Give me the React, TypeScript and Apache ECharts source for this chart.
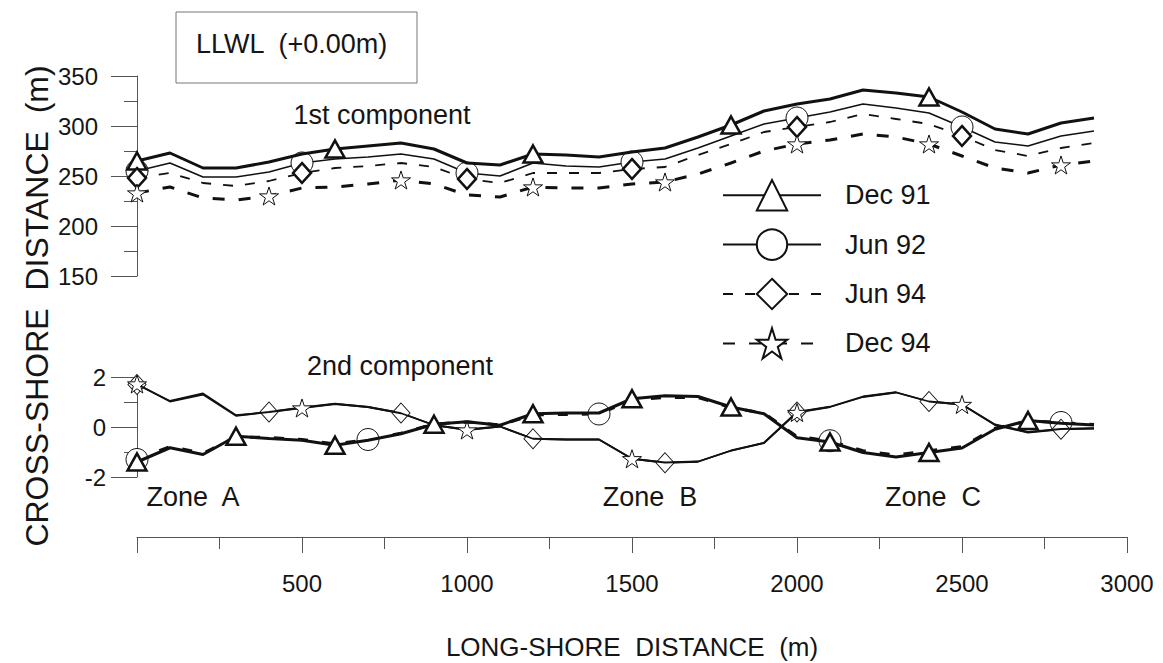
import React, { useEffect, useRef } from "react";
import * as echarts from "echarts";

const FONT = "'Liberation Sans', Arial, Helvetica, sans-serif";

// Long-shore positions (m)
const xs = [0, 100, 200, 300, 400, 500, 600, 700, 800, 900, 1000, 1100, 1200, 1300, 1400, 1500, 1600, 1700, 1800, 1900, 2000, 2100, 2200, 2300, 2400, 2500, 2600, 2700, 2800, 2900];

// 1st component (m)
const top_dec91 = [265, 273, 258, 258, 264, 272, 277, 280, 283, 277, 263, 261, 272, 271, 269, 274, 278, 289, 301, 315, 322, 327, 336, 333, 329, 314, 297, 292, 303, 308];
const top_jun92 = [255, 263, 249, 249, 254, 263, 267, 269, 272, 267, 253, 250, 263, 260, 259, 264, 267, 278, 290, 302, 308, 314, 322, 318, 313, 299, 284, 280, 290, 295];
const top_jun94 = [248, 253, 243, 240, 245, 253, 258, 260, 263, 259, 247, 243, 253, 253, 253, 257, 259, 271, 282, 294, 299, 304, 312, 307, 302, 290, 276, 270, 278, 283];
const top_dec94 = [233, 239, 228, 226, 230, 238, 239, 242, 246, 242, 231, 229, 239, 238, 238, 242, 244, 252, 263, 275, 282, 286, 292, 289, 282, 270, 258, 253, 261, 265];

// 2nd component
const bot_dec91 = [-1.4, -0.83, -1.1, -0.37, -0.46, -0.53, -0.73, -0.53, -0.27, 0.11, 0.21, 0.07, 0.53, 0.56, 0.56, 1.13, 1.25, 1.22, 0.8, 0.53, -0.43, -0.6, -1.02, -1.2, -1.02, -0.84, -0.09, 0.26, 0.15, 0.08];
const bot_jun92 = [-1.3, -0.78, -1.05, -0.4, -0.42, -0.5, -0.68, -0.5, -0.25, 0.12, 0.2, 0.08, 0.48, 0.5, 0.52, 1.08, 1.18, 1.18, 0.78, 0.55, -0.38, -0.55, -0.95, -1.12, -0.95, -0.78, -0.05, 0.24, 0.18, 0.1];
const bot_jun94 = [1.7, 1.04, 1.34, 0.47, 0.6, 0.78, 0.93, 0.8, 0.56, 0.07, -0.1, 0.02, -0.47, -0.5, -0.5, -1.27, -1.43, -1.39, -0.94, -0.64, 0.6, 0.81, 1.22, 1.39, 1.02, 0.9, 0.08, -0.22, -0.09, -0.06];
const bot_dec94 = [1.72, 1.02, 1.3, 0.45, 0.6, 0.76, 0.92, 0.8, 0.55, 0.08, -0.12, 0.02, -0.47, -0.5, -0.5, -1.27, -1.42, -1.38, -0.95, -0.63, 0.58, 0.8, 1.2, 1.38, 1.02, 0.9, 0.1, -0.2, -0.08, -0.05];

// Positions that carry a marker
const topMarks_dec91 = [0, 600, 1200, 1800, 2400];
const topMarks_jun92 = [0, 500, 1000, 1500, 2000, 2500];
const topMarks_jun94 = [0, 500, 1000, 1500, 2000, 2500];
const topMarks_dec94 = [0, 400, 800, 1200, 1600, 2000, 2400, 2800];
const botMarks_dec91 = [0, 300, 600, 900, 1200, 1500, 1800, 2100, 2400, 2700];
const botMarks_jun92 = [0, 700, 1400, 2100, 2800];
const botMarks_jun94 = [0, 400, 800, 1200, 1600, 2000, 2400, 2800];
const botMarks_dec94 = [0, 500, 1000, 1500, 2000, 2500];

const legendNames = ["Dec 91", "Jun 92", "Jun 94", "Dec 94"];
const xTickLabels = ["500", "1000", "1500", "2000", "2500", "3000"];

const STAR =
  "path://M50 0 L61.23 34.55 L97.55 34.55 L68.17 55.9 L79.39 90.45 L50 69.1 L20.61 90.45 L31.83 55.9 L2.45 34.55 L38.77 34.55 Z";

function buildData(ys: number[], marks: number[]) {
  return xs.map((x, i) =>
    marks.indexOf(x) >= 0 ? { value: [x, ys[i]] } : { value: [x, ys[i]], symbol: "none" }
  );
}

function mkSeries(
  name: string,
  idx: number,
  ys: number[],
  marks: number[],
  symbol: string,
  symbolSize: number | number[],
  lineWidth: number,
  dash: any,
  borderWidth: number,
  z: number
) {
  return {
    type: "line",
    name,
    xAxisIndex: idx,
    yAxisIndex: idx,
    data: buildData(ys, marks),
    symbol,
    symbolSize,
    symbolKeepAspect: true,
    showSymbol: true,
    showAllSymbol: true,
    lineStyle: { color: "#111", width: lineWidth, type: dash },
    itemStyle: { color: "#fff", borderColor: "#111", borderWidth },
    emphasis: { disabled: true },
    z,
  };
}

function label(text: string, x: number, y: number, size: number, align = "center", rotation = 0) {
  return {
    type: "text",
    x,
    y,
    rotation,
    style: {
      text,
      fontSize: size,
      fontFamily: FONT,
      fill: "#151515",
      align,
      textAlign: align,
      verticalAlign: "middle",
      textVerticalAlign: "middle",
    },
  };
}

export default function App() {
  const ref = useRef<HTMLDivElement>(null);

  useEffect(() => {
    if (!ref.current) return;
    const chart = echarts.init(ref.current, null, { renderer: "svg" });
    const axisColor = "#555";
    const textColor = "#151515";

    const option: any = {
      animation: false,
      backgroundColor: "#fff",
      textStyle: { fontFamily: FONT, color: textColor },
      grid: [
        { left: 137, top: 76, width: 990, height: 200 },
        { left: 137, top: 377, width: 990, height: 100 },
      ],
      legend: {
        data: legendNames,
        orient: "vertical",
        left: 717,
        top: 174,
        itemWidth: 98,
        itemHeight: 38,
        itemGap: 17,
        selectedMode: false,
        textStyle: { fontFamily: FONT, fontSize: 27, color: textColor, padding: [0, 0, 0, 19] },
      },
      xAxis: [
        { gridIndex: 0, type: "value", min: 0, max: 3000, show: false },
        {
          gridIndex: 1,
          type: "value",
          min: 0,
          max: 3000,
          interval: 500,
          position: "bottom",
          offset: 60,
          axisLine: { show: true, onZero: false, lineStyle: { color: axisColor, width: 1 } },
          axisTick: { show: true, length: 16, lineStyle: { color: axisColor } },
          minorTick: { show: true, splitNumber: 2, length: 12, lineStyle: { color: axisColor } },
          splitLine: { show: false },
          axisLabel: {
            fontSize: 24,
            color: textColor,
            fontFamily: FONT,
            margin: 34,
            formatter: (v: number) => (xTickLabels.indexOf(String(v)) >= 0 ? String(v) : ""),
          },
          name: "LONG-SHORE  DISTANCE  (m)",
          nameLocation: "middle",
          nameGap: 97,
          nameTextStyle: { fontSize: 26, color: textColor, fontFamily: FONT },
        },
      ],
      yAxis: [
        {
          gridIndex: 0,
          type: "value",
          min: 150,
          max: 350,
          interval: 50,
          axisLine: { show: true, onZero: false, lineStyle: { color: axisColor, width: 1 } },
          axisTick: { show: true, length: 26, lineStyle: { color: axisColor } },
          minorTick: { show: true, splitNumber: 2, length: 13, lineStyle: { color: axisColor } },
          splitLine: { show: false },
          axisLabel: { fontSize: 24, color: textColor, fontFamily: FONT, margin: 39 },
        },
        {
          gridIndex: 1,
          type: "value",
          min: -2,
          max: 2,
          interval: 2,
          axisLine: { show: true, onZero: false, lineStyle: { color: axisColor, width: 1 } },
          axisTick: { show: true, length: 26, lineStyle: { color: axisColor } },
          minorTick: { show: true, splitNumber: 2, length: 13, lineStyle: { color: axisColor } },
          splitLine: { show: false },
          axisLabel: { fontSize: 24, color: textColor, fontFamily: FONT, margin: 31 },
        },
      ],
      graphic: [
        {
          type: "rect",
          shape: { x: 176, y: 12, width: 241, height: 71 },
          style: { fill: "none", stroke: "#777", lineWidth: 1 },
        },
        label("LLWL  (+0.00m)", 196, 44, 27, "left"),
        label("1st component", 382, 115, 27),
        label("2nd component", 400, 366, 27),
        label("Zone  A", 193, 497, 27),
        label("Zone  B", 650, 497, 27),
        label("Zone  C", 933, 497, 27),
        label("CROSS-SHORE  DISTANCE  (m)", 37, 306, 32, "center", Math.PI / 2),
      ],
      series: [
        mkSeries("Dec 91", 0, top_dec91, topMarks_dec91, "triangle", [19, 17], 3, "solid", 2.5, 4),
        mkSeries("Jun 92", 0, top_jun92, topMarks_jun92, "circle", 22, 1.6, "solid", 1, 3),
        mkSeries("Jun 94", 0, top_jun94, topMarks_jun94, "diamond", [18, 20], 1.8, [10, 12], 2.5, 5),
        mkSeries("Dec 94", 0, top_dec94, topMarks_dec94, STAR, 19, 3, [12, 14], 1, 6),
        mkSeries("Dec 91 (2nd)", 1, bot_dec91, botMarks_dec91, "triangle", [19, 17], 3, "solid", 2.5, 6),
        mkSeries("Jun 92 (2nd)", 1, bot_jun92, botMarks_jun92, "circle", 22, 3, [10, 14], 1, 3),
        mkSeries("Jun 94 (2nd)", 1, bot_jun94, botMarks_jun94, "diamond", [18, 20], 1.8, "solid", 1, 4),
        mkSeries("Dec 94 (2nd)", 1, bot_dec94, botMarks_dec94, STAR, 19, 1.8, "solid", 1, 5),
      ],
    };

    chart.setOption(option);
    return () => chart.dispose();
  }, []);

  return (
    <div
      ref={ref}
      style={{ position: "fixed", left: 0, top: 0, width: 1163, height: 663, background: "#fff" }}
    />
  );
}
